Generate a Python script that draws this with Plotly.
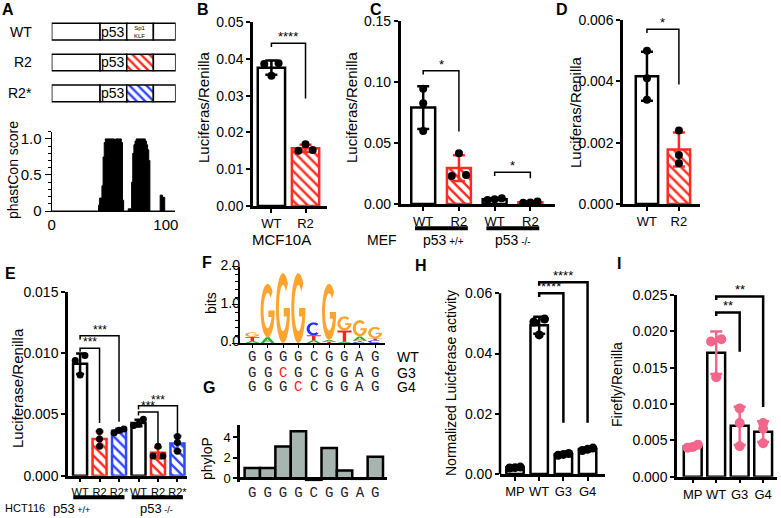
import numpy as np
import plotly.graph_objects as go

W, H = 781, 518
FONT = "Liberation Sans, Arial, Helvetica, sans-serif"
MONO = "Liberation Mono, Courier New, monospace"
RED = "#ff2b1f"
BLUE = "#2f46ff"
PINK = "#f2668b"
GREY = "#a7b5b1"
LOGO_COL = {"G": "#ffa52f", "C": "#2034ff", "T": "#ee2424", "A": "#2eaa35"}

#%% data
# A: construct map (% of fragment) and phastCons track
seg_edges = [0, 39, 60.5, 82, 100]
constructs = ["WT", "R2", "R2*"]
phast_pos = [0, 41, 42, 44, 45, 46, 47, 55, 56, 61, 62, 63, 67, 70, 71, 72, 73,
             74, 82, 83, 84, 85, 86, 95, 97, 99, 108]
phast_score = [0, 0.08, 0.18, 0.35, 0.75, 0.95, 1.0, 0.97, 1.0, 0.95, 0.15, 0,
               0.03, 0.4, 0.8, 0.92, 0.97, 1.0, 0.97, 0.92, 0.85, 0.7, 0, 0.22,
               0.19, 0, 0]

# B: MCF10A
b_cats = ["WT", "R2"]
b_wt = [0.0388, 0.0386, 0.0354]
b_r2 = [0.0150, 0.0168, 0.0152]
b_sig = [(0, 1, 0.0442, 0.0292, "****")]

# C: MEF
c_cats = ["WT", "R2", "WT", "R2"]
c_wt_pos = [0.0943, 0.0825, 0.0598]
c_r2_pos = [0.0415, 0.0229, 0.0238]
c_wt_neg = [0.0038, 0.0047, 0.0033]
c_r2_neg = [0.0012, 0.0020, 0.0011]
c_sig = [(0, 1, 0.109, 0.0593, "*"), (2, 3, 0.026, 0.021, "*")]

# D
d_cats = ["WT", "R2"]
d_wt = [0.0050, 0.0041, 0.0034]
d_r2 = [0.0024, 0.0016, 0.00133]
d_sig = [(0, 1, 0.0057, 0.0039, "*")]

# E: HCT116
e_cats = ["WT", "R2", "R2*", "WT", "R2", "R2*"]
e_wt_pos = [0.0098, 0.0094, 0.0082]
e_r2_pos = [0.0036, 0.0030, 0.0024]
e_r2s_pos = [0.0038, 0.0037, 0.0035]
e_wt_neg = [0.0046, 0.0042, 0.0041]
e_r2_neg = [0.0024, 0.0016, 0.0016]
e_r2s_neg = [0.0032, 0.0027, 0.0020]
e_sig = [(0, 1, 0.0104, 0.0043, "***"), (0, 2, 0.0114, 0.0044, "***"),
         (3, 4, 0.0052, 0.0026, "***"), (3, 5, 0.0057, 0.0033, "***")]

# F: motif logo (stack bottom -> top) and sequences
logo_letters = [["A", "T", "G"], ["A", "G"], ["G"], ["G"], ["A", "T", "C"],
                ["T", "A", "G"], ["A", "T", "G"], ["C", "T", "A", "G"], ["C", "T", "G"]]
logo_heights = [[0.05, 0.11, 0.12], [0.15, 1.40], [1.83], [1.83], [0.07, 0.13, 0.34],
                [0.03, 0.05, 1.47], [0.03, 0.30, 0.37], [0.03, 0.03, 0.11, 0.43],
                [0.07, 0.05, 0.30]]
logo_ticks = [0, 1, 2]
seq_names = ["WT", "G3", "G4"]
seq_wt = list("GGGGCGGAG")
seq_g3 = list("GGCGCGGAG")
seq_g4 = list("GGGCCGGAG")

# G: phyloP
phylop = [1.0, 1.0, 3.1, 4.6, -0.15, 2.95, 0.75, -0.05, 2.1]

# H
h_cats = ["MP", "WT", "G3", "G4"]
h_mp = [0.0020, 0.0023, 0.0021]
h_wt = [0.0515, 0.0505, 0.0462]
h_g3 = [0.0065, 0.0062, 0.0068]
h_g4 = [0.0082, 0.0078, 0.0086]
h_sig = [(1, 2, 0.0600, 0.0170, "****"), (1, 3, 0.0637, 0.0170, "****")]

# I
i_cats = ["MP", "WT", "G3", "G4"]
i_mp = [0.0044, 0.0041, 0.0040]
i_wt = [0.0189, 0.0186, 0.0137]
i_g3 = [0.0094, 0.0074, 0.0042]
i_g4 = [0.0074, 0.0066, 0.0046]
i_sig = [(1, 2, 0.0226, 0.0172, "**"), (1, 3, 0.0248, 0.0096, "**")]

#%% helpers
fig = go.Figure()
axes = {}
annotations = []
shapes = []


def px_x(x):
    return x / W


def px_y(y):
    return 1 - y / H


def axis_pair(n, xd, yd, xr, yr, xkw=None, ykw=None):
    sx = "" if n == 1 else str(n)
    base = dict(showgrid=False, zeroline=False, showline=True, linecolor="black",
                linewidth=2.5, ticks="outside", tickcolor="black", tickwidth=2,
                ticklen=4, fixedrange=True, automargin=False, tickangle=0,
                tickfont=dict(family=FONT, size=14, color="black"))
    xa = dict(base, domain=[px_x(xd[0]), px_x(xd[1])], range=xr, anchor="y" + sx)
    ya = dict(base, domain=[px_y(yd[1]), px_y(yd[0])], range=yr, anchor="x" + sx)
    xa.update(xkw or {})
    ya.update(ykw or {})
    axes["xaxis" + sx] = xa
    axes["yaxis" + sx] = ya


def swarm(vals, span, w):
    vals = np.asarray(vals, float)
    order = np.argsort(vals)
    offs = np.zeros(len(vals))
    groups = [[order[0]]]
    for a, b in zip(order[:-1], order[1:]):
        if vals[b] - vals[a] < 0.03 * span:
            groups[-1].append(b)
        else:
            groups.append([b])
    for g in groups:
        if len(g) > 1:
            offs[g] = np.linspace(-w, w, len(g))
    return offs


def bar_panel(n, groups, styles, dot_color, dot_size, span, spread, bw, capw):
    sx = str(n)
    for i, (vals, (edge, hatch)) in enumerate(zip(groups, styles)):
        vals = np.asarray(vals, float)
        m, sd = vals.mean(), vals.std(ddof=1)
        marker = dict(color="white", line=dict(color=edge, width=2.5))
        if hatch:
            marker["pattern"] = dict(shape="\\", fgcolor=edge, bgcolor="white",
                                     size=7, solidity=0.35, fillmode="replace")
        err_col = edge if hatch else dot_color
        fig.add_trace(go.Bar(
            x=[i], y=[m], width=bw, marker=marker,
            error_y=dict(type="data", array=[sd], visible=True, color=err_col,
                         thickness=2.5, width=capw),
            xaxis="x" + sx, yaxis="y" + sx, showlegend=False, hoverinfo="skip"))
        offs = swarm(vals, span, spread)
        fig.add_trace(go.Scatter(
            x=(i + offs).tolist(), y=vals.tolist(), mode="markers",
            marker=dict(color=dot_color, size=dot_size, line=dict(width=0)),
            xaxis="x" + sx, yaxis="y" + sx, showlegend=False, hoverinfo="skip",
            cliponaxis=False))


def brackets(n, sig, span, lw=1.5, fsize=13):
    sx = str(n)
    for x1, x2, h, drop, label in sig:
        fig.add_trace(go.Scatter(
            x=[x1, x1, x2, x2], y=[h - 0.02 * span, h, h, drop], mode="lines",
            line=dict(color="black", width=lw), xaxis="x" + sx, yaxis="y" + sx,
            showlegend=False, hoverinfo="skip"))
        annotations.append(dict(x=(x1 + x2) / 2, y=h, xref="x" + sx, yref="y" + sx,
                                text=label, showarrow=False, xanchor="center",
                                yanchor="bottom", yshift=-3, font=dict(size=fsize)))


def text(x, y, s, size=14, angle=0, **kw):
    ann = dict(x=px_x(x), y=px_y(y), xref="paper", yref="paper", text=s,
               showarrow=False, textangle=angle, xanchor="center", yanchor="middle",
               font=dict(size=size, family=kw.pop("family", FONT),
                         color=kw.pop("color", "black")))
    ann.update(kw)
    annotations.append(ann)


def arc(a0, a1, rx, ry, n=36):
    t = np.radians(np.linspace(a0, a1, n))
    return list(zip(0.5 + rx * np.cos(t), 0.5 + ry * np.sin(t)))


def glyph(ch):
    if ch == "C":
        return [arc(48, 312, 0.5, 0.5) + arc(312, 48, 0.29, 0.33)]
    if ch == "G":
        a = 360 + np.degrees(np.arcsin(-0.12 / 0.33))
        return [arc(45, 360, 0.5, 0.5) + [(0.55, 0.5), (0.55, 0.38)]
                + arc(a, 45, 0.29, 0.33)]
    if ch == "T":
        return [[(0, 1), (1, 1), (1, 0.82), (0.62, 0.82), (0.62, 0), (0.38, 0),
                 (0.38, 0.82), (0, 0.82)]]
    return [[(0, 0), (0.38, 1), (0.62, 1), (1, 0), (0.76, 0), (0.67, 0.26),
             (0.33, 0.26), (0.24, 0)], [(0.4, 0.42), (0.6, 0.42), (0.5, 0.74)]]


#%% A: construct map
axis_pair(1, (51.7, 175.7), (16.2, 108.8), [0, 100], [2.5, -0.5],
          dict(visible=False), dict(visible=False))
seg3_style = [("white", None), ("white", RED), ("white", BLUE)]
for j in range(4):
    length = seg_edges[j + 1] - seg_edges[j]
    if j != 2:
        fig.add_trace(go.Bar(
            y=[0, 1, 2], x=[length] * 3, base=[seg_edges[j]] * 3, orientation="h",
            width=0.54, marker=dict(color="white", line=dict(color="black", width=1.5)),
            xaxis="x", yaxis="y", showlegend=False, hoverinfo="skip"))
    else:
        for r, (bg, hatch) in enumerate(seg3_style):
            marker = dict(color=bg, line=dict(color="black", width=1.5))
            if hatch:
                marker["pattern"] = dict(shape="\\", fgcolor=hatch, bgcolor="white",
                                         size=6, solidity=0.4, fillmode="replace")
            fig.add_trace(go.Bar(
                y=[r], x=[length], base=[seg_edges[j]], orientation="h", width=0.54,
                marker=marker, xaxis="x", yaxis="y", showlegend=False,
                hoverinfo="skip"))
for r, name in enumerate(constructs):
    annotations.append(dict(x=px_x(34), y=r, xref="paper", yref="y", text=name,
                            xanchor="right", yanchor="middle", showarrow=False,
                            font=dict(size=14)))
    annotations.append(dict(x=(seg_edges[1] + seg_edges[2]) / 2, y=r, xref="x",
                            yref="y", text="p53", showarrow=False, xanchor="center",
                            yanchor="middle", font=dict(size=14)))
annotations.append(dict(x=(seg_edges[2] + seg_edges[3]) / 2, y=0, xref="x", yref="y",
                        text="Sp1<br>KLF", showarrow=False, xanchor="center",
                        yanchor="middle", font=dict(size=6, color="black")))

# A: phastCons
axis_pair(2, (51.7, 175), (131.7, 211), [0, 108], [0, 1.1],
          dict(tickvals=[0, 100], ticktext=["0", "100"], ticks="", linewidth=1.2,
               tickfont=dict(size=15, family=FONT, color="black")),
          dict(tickvals=[0, 0.5, 1.0], ticktext=["0", "0.5", "1.0"], linewidth=1.2,
               tickwidth=1, ticklen=6,
               tickfont=dict(size=15, family=FONT, color="black"),
               minor=dict(dtick=0.1, tick0=0, ticks="outside", ticklen=3,
                          tickcolor="black", tickwidth=1)))
fig.add_trace(go.Scatter(x=phast_pos, y=phast_score, mode="lines",
                         line=dict(shape="hv", color="black", width=1),
                         fill="tozeroy", fillcolor="black", xaxis="x2", yaxis="y2",
                         showlegend=False, hoverinfo="skip"))

#%% B
cat_font = dict(size=13, family=FONT, color="black")
axis_pair(3, (253, 327), (22, 206), [-0.54, 1.63], [0, 0.05],
          dict(tickvals=[0, 1], ticktext=b_cats, tickfont=cat_font),
          dict(dtick=0.01, tickformat=".2f"))
bar_panel(3, [b_wt, b_r2], [("black", False), (RED, True)], "black", 8, 0.05,
          0.21, 0.8, 6)
brackets(3, b_sig, 0.05)

#%% C
axis_pair(4, (400.7, 555), (20.7, 204), [-0.63, 3.69], [0, 0.15],
          dict(tickvals=[0, 1, 2, 3], ticktext=c_cats, tickfont=cat_font),
          dict(dtick=0.05, tickformat=".2f"))
bar_panel(4, [c_wt_pos, c_r2_pos, c_wt_neg, c_r2_neg],
          [("black", False), (RED, True), ("black", False), (RED, True)],
          "black", 8, 0.15, 0.2, 0.67, 6)
brackets(4, c_sig, 0.15)
for g0, g1 in [(0, 1), (2, 3)]:
    shapes.append(dict(type="line", xref="x4", yref="paper", x0=g0 - 0.23,
                       x1=g1 + 0.25, y0=px_y(228.3), y1=px_y(228.3),
                       line=dict(color="black", width=4)))

#%% D
axis_pair(5, (623, 700), (20, 204), [-0.75, 1.66], [0, 0.006],
          dict(tickvals=[0, 1], ticktext=d_cats, tickfont=cat_font),
          dict(dtick=0.002, tickformat=".3f"))
bar_panel(5, [d_wt, d_r2], [("black", False), (RED, True)], "black", 8, 0.006,
          0.2, 0.7, 6)
brackets(5, d_sig, 0.006)

#%% E
axis_pair(6, (68, 187), (291.7, 475.7), [-0.62, 5.49], [0, 0.015],
          dict(tickvals=list(range(6)), ticktext=e_cats,
               tickfont=dict(size=11, family=FONT, color="black")),
          dict(dtick=0.005, tickformat=".3f"))
bar_panel(6, [e_wt_pos, e_r2_pos, e_r2s_pos, e_wt_neg, e_r2_neg, e_r2s_neg],
          [("black", False), (RED, True), (BLUE, True)] * 2, "black", 7, 0.015,
          0.25, 0.72, 4)
brackets(6, e_sig, 0.015, fsize=12)
for g0, g1 in [(0, 2), (3, 5)]:
    shapes.append(dict(type="line", xref="x6", yref="paper", x0=g0 - 0.35,
                       x1=g1 + 0.28, y0=px_y(497.3), y1=px_y(497.3),
                       line=dict(color="black", width=4)))

#%% F: logo
axis_pair(7, (240, 385), (266.7, 343), [-0.8, 8.64], [0, 2.0],
          dict(tickvals=list(range(9)), showticklabels=False, linewidth=1.5,
               tickwidth=1, ticklen=3),
          dict(tickvals=logo_ticks, showticklabels=False, linewidth=1.5,
               tickwidth=1, ticklen=6,
               minor=dict(dtick=0.2, tick0=0, ticks="outside", ticklen=3,
                          tickcolor="black", tickwidth=1)))
# tick labels of the logo axis, drawn as text marks on the y7 scale
fig.add_trace(go.Scatter(
    x=[-0.8] * len(logo_ticks), y=logo_ticks, mode="text",
    text=[f"{v:.1f}" for v in logo_ticks], textposition="middle left",
    textfont=dict(size=14, family=FONT, color="black"), cliponaxis=False,
    xaxis="x7", yaxis="y7", showlegend=False, hoverinfo="skip"))
lw = 0.92
for col, (letters, heights) in enumerate(zip(logo_letters, logo_heights)):
    y0 = 0.0
    for ch, hgt in zip(letters, heights):
        path = " ".join(
            "M " + " L ".join(f"{col - lw / 2 + gx * lw:.4f},{y0 + gy * hgt:.4f}"
                              for gx, gy in poly) + " Z"
            for poly in glyph(ch))
        shapes.append(dict(type="path", path=path, xref="x7", yref="y7",
                           fillcolor=LOGO_COL[ch], line=dict(width=0), layer="above"))
        y0 += hgt
for name, seq, ypx in zip(seq_names, [seq_wt, seq_g3, seq_g4], [356.7, 372.7, 386.7]):
    for j, ch in enumerate(seq):
        annotations.append(dict(
            x=j, y=px_y(ypx), xref="x7", yref="paper", text=ch, showarrow=False,
            xanchor="center", yanchor="middle",
            font=dict(size=14, family=MONO,
                      color="#ff1a1a" if ch != seq_wt[j] else "#222222")))
    text(395, ypx, name, 14, xanchor="left")

#%% G: phyloP
axis_pair(8, (240, 387), (425, 481.9), [-0.8, 8.76], [-0.35, 5.2],
          dict(showline=False, ticks="", tickvals=list(range(9)), ticktext=seq_wt,
               tickfont=dict(size=14, family=MONO, color="#222222")),
          dict(tickvals=[0, 2, 4], zeroline=True, zerolinecolor="black",
               zerolinewidth=2.5, tickfont=dict(size=13, family=FONT, color="black")))
fig.add_trace(go.Bar(x=list(range(9)), y=phylop, width=1.0,
                     marker=dict(color=GREY, line=dict(color="black", width=2.5)),
                     xaxis="x8", yaxis="y8", showlegend=False, hoverinfo="skip"))

#%% H
axis_pair(9, (500, 605), (276.8, 474), [-0.62, 3.72], [0, 0.0655],
          dict(tickvals=[0, 1, 2, 3], ticktext=h_cats, tickfont=cat_font),
          dict(tickvals=[0, 0.02, 0.04, 0.06], tickformat=".2f", showline=False))
shapes.append(dict(type="line", xref="x9 domain", yref="y9", x0=0, x1=0, y0=0,
                   y1=0.06, line=dict(color="black", width=2.5)))
bar_panel(9, [h_mp, h_wt, h_g3, h_g4], [("black", False)] * 4, "black", 9,
          0.06, 0.22, 0.72, 6)
brackets(9, h_sig, 0.06, lw=2.5)

#%% I
axis_pair(10, (677, 777), (295, 476.7), [-0.67, 3.59], [0, 0.025],
          dict(tickvals=[0, 1, 2, 3], ticktext=i_cats, tickfont=cat_font),
          dict(dtick=0.005, tickformat=".3f"))
bar_panel(10, [i_mp, i_wt, i_g3, i_g4], [("black", False)] * 4, PINK, 10,
          0.025, 0.22, 0.76, 6)
brackets(10, i_sig, 0.025, lw=2.5)

#%% text: panel letters, axis titles, group labels
for lab, x, y in [("A", 8, 10), ("B", 203, 10), ("C", 376, 10), ("D", 562, 10),
                  ("E", 10, 273), ("F", 207, 262), ("G", 209, 387), ("H", 421, 265),
                  ("I", 619, 263)]:
    text(x, y, f"<b>{lab}</b>", 16)

text(13, 170, "phastCon score", 14, -90)
text(203, 107, "Luciferas/Renilla", 15, -90)
text(351, 107, "Luciferas/Renilla", 15, -90)
text(575, 112, "Luciferas/Renilla", 15, -90)
text(17, 388, "Luciferase/Renilla", 15, -90)
text(211, 303, "bits", 14, -90)
text(207, 458, "phyloP", 14, -90)
text(451, 383, "Normalized Luicferase activity", 14, -90)
text(617, 385, "Firefly/Renilla", 14, -90)

text(281, 240, "MCF10A", 15)
text(382, 240, "MEF", 14)
text(443, 240, "p53<span style='font-size:10px'> +/+</span>", 14)
text(513, 240, "p53<span style='font-size:10px'> -/-</span>", 14)
text(25, 508, "HCT116", 11)
text(71, 508, "p53<span style='font-size:9px'> +/+</span>", 13)
text(156, 508, "p53<span style='font-size:9px'> -/-</span>", 13)

fig.update_layout(
    width=W, height=H, margin=dict(l=0, r=0, t=0, b=0, pad=0), barmode="overlay",
    paper_bgcolor="white", plot_bgcolor="rgba(0,0,0,0)", showlegend=False,
    font=dict(family=FONT, color="black", size=14),
    annotations=annotations, shapes=shapes, **axes)

# page body has a default 8px margin; drop it so the figure sits at the window origin
fig.write_html("out.html", config={"displayModeBar": False},
               post_script="document.body.style.margin='0';"
                           "document.body.style.overflow='hidden';")
